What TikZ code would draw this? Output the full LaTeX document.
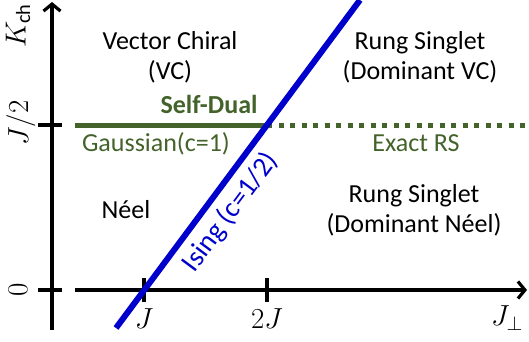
\RequirePackage{fix-cm}
\documentclass[tikz,border=0pt]{standalone}
\usepackage{fontspec}
\setmainfont{Carlito}
\usepackage{amsmath}
\definecolor{PhaseGreen}{HTML}{43632B}
\definecolor{IsingBlue}{HTML}{0000CC}
\usetikzlibrary{arrows.meta, calc}
\tikzset{
  % Axis styles
  axisline/.style={line width=3.2bp, black},
  axisarrow/.style={axisline, -{Straight Barb[length=7bp,width=17bp,line width=3.2bp]}},
  tickline/.style={line width=3.2bp, black},
  % Phase boundary styles
  gaussline/.style={line width=5bp, PhaseGreen},
  rsline/.style={line width=5bp, PhaseGreen, dash pattern=on 5bp off 6.5bp},
  isingline/.style={line width=6bp, IsingBlue},
  % Label styles
  phaselabel/.style={font=\fontsize{26bp}{30bp}\selectfont, align=center, inner sep=0pt},
  greenlabel/.style={phaselabel, text=PhaseGreen},
  isinglabel/.style={font=\fontsize{28bp}{32bp}\selectfont, inner sep=0pt, text=IsingBlue},
  mathlabel/.style={font=\fontsize{29bp}{33bp}\selectfont, inner sep=0pt}
}
\begin{document}
\begin{tikzpicture}[x=1bp, y=1bp]
  \useasboundingbox (0,0) rectangle (529,341);

  % Axes
  \coordinate (ybot) at (52,11);
  \coordinate (ytop) at (52,339);
  \coordinate (xleft) at (75,51);
  \coordinate (xright) at (527,51);
  \draw[axisarrow] (ybot) -- (ytop);
  \draw[axisarrow] (xleft) -- (xright);

  % Ticks
  \coordinate (tzero) at (52,51);
  \coordinate (thalf) at (52,216);
  \coordinate (tJ) at (144,51);
  \coordinate (tTwoJ) at (267,51);
  \foreach \t in {tzero, thalf} {
    \draw[tickline] ($(\t)+(-14,0)$) -- ($(\t)+(10,0)$);
  }
  \foreach \t in {tJ, tTwoJ} {
    \draw[tickline] ($(\t)+(0,-12)$) -- ($(\t)+(0,12)$);
  }

  % Self-dual line
  \coordinate (gstart) at (75,216);
  \coordinate (gcross) at (267,216);
  \coordinate (gend) at (527,216);
  \draw[gaussline] (gstart) -- (gcross);
  \draw[rsline] (gcross) -- (gend);

  % Ising line
  \coordinate (ibot) at (116,13);
  \coordinate (itop) at (360,341);
  \draw[isingline] (ibot) -- node[pos=0.395, sloped, below=7bp, isinglabel] (ising) {Ising (c=1/2)} (itop);

  % Phase labels
  \node[phaselabel] (vc) at (170,284) {Vector Chiral\\(VC)};
  \node[phaselabel] (rsvc) at (420,284) {Rung Singlet\\(Dominant VC)};
  \node[phaselabel] (rsneel) at (414,131) {Rung Singlet\\(Dominant Néel)};
  \node[phaselabel, anchor=base] (neel) at (126,123) {Néel};
  \node[greenlabel, anchor=base, font=\fontsize{26bp}{30bp}\selectfont\bfseries] (selfdual) at (209,228) {Self-Dual};
  \node[greenlabel, anchor=base] (gauss) at (156,190) {Gaussian(c=1)};
  \node[greenlabel, anchor=base] (exactrs) at (416,190) {Exact RS};

  % Axis labels
  \node[mathlabel, rotate=90] (lblK) at (18,315) {$K_{\mathrm{ch}}$};
  \node[mathlabel, rotate=90] (lblhalf) at (21,218) {$J/2$};
  \node[mathlabel, rotate=90] (lblzero) at (18,51) {$0$};
  \node[mathlabel] (lblJ) at (144,22) {$J$};
  \node[mathlabel] (lblTwoJ) at (267,22) {$2J$};
  \node[mathlabel] (lblperp) at (507,23) {$J_{\perp}$};
\end{tikzpicture}
\end{document}
